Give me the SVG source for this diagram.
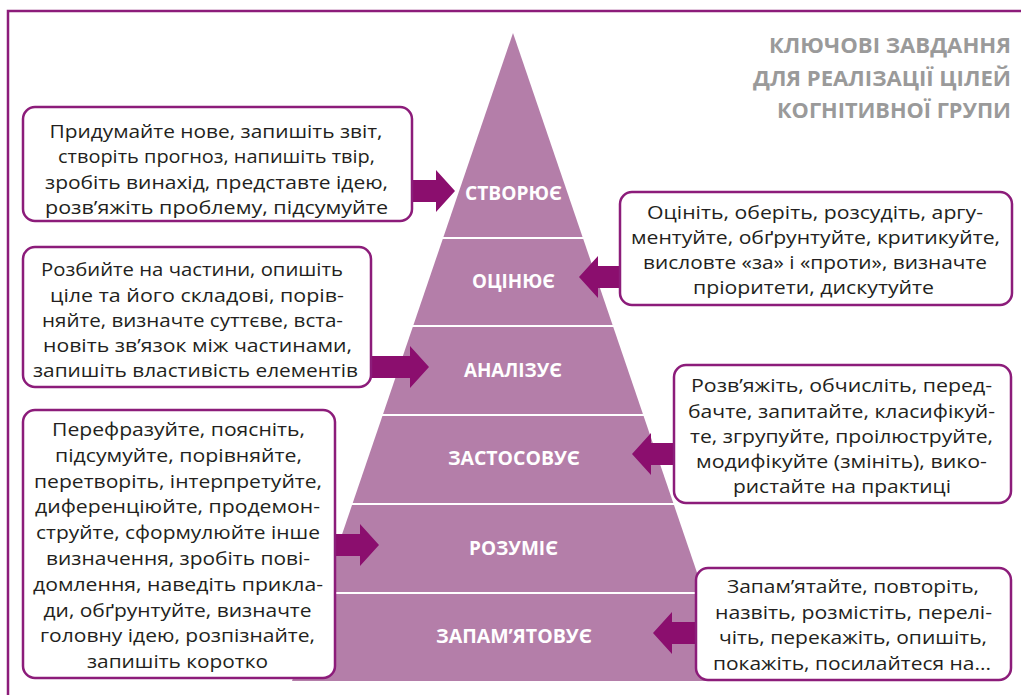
<svg xmlns="http://www.w3.org/2000/svg" width="1021" height="695" viewBox="0 0 1021 695">
<style>
.band{fill:#b47ea9}
.lbl{font-family:"Open Sans","Noto Sans",sans-serif;font-weight:700;font-size:20px;fill:#ffffff;text-anchor:middle}
.box{fill:#ffffff;stroke:#8c1c7a;stroke-width:2.5}
.txt{font-family:"Open Sans","Noto Sans",sans-serif;font-size:19px;fill:#231f20;text-anchor:middle}
.arr{fill:#8b0e6e}
.ttl{font-family:"Open Sans","Noto Sans",sans-serif;font-weight:700;font-size:22px;fill:#9a9a9a;text-anchor:end}
.frame{fill:none;stroke:#8c1c7a;stroke-width:2.5}
</style>
<rect width="1021" height="695" fill="#ffffff"/>
<path class="frame" d="M1021 11 H8 V695"/>
<g id="title">
<text class="ttl" x="1011" y="53" textLength="242" lengthAdjust="spacingAndGlyphs">КЛЮЧОВІ ЗАВДАННЯ</text>
<text class="ttl" x="1011" y="86" textLength="258" lengthAdjust="spacingAndGlyphs">ДЛЯ РЕАЛІЗАЦІЇ ЦІЛЕЙ</text>
<text class="ttl" x="1011" y="118" textLength="234" lengthAdjust="spacingAndGlyphs">КОГНІТИВНОЇ ГРУПИ</text>
</g>
<g id="level-create">
<polygon class="band" points="513,33 582.56,237 443.44,237"/>
<text class="lbl" x="513.5" y="200" textLength="97" lengthAdjust="spacingAndGlyphs">СТВОРЮЄ</text>
</g>
<g id="level-evaluate">
<polygon class="band" points="442.75,239 583.25,239 612.57,325 413.43,325"/>
<text class="lbl" x="513.5" y="288" textLength="83" lengthAdjust="spacingAndGlyphs">ОЦІНЮЄ</text>
</g>
<g id="level-analyze">
<polygon class="band" points="412.75,327 613.25,327 642.92,414 383.08,414"/>
<text class="lbl" x="513" y="377" textLength="98" lengthAdjust="spacingAndGlyphs">АНАЛІЗУЄ</text>
</g>
<g id="level-apply">
<polygon class="band" points="382.4,416 643.6,416 673.27,503 352.73,503"/>
<text class="lbl" x="514" y="465" textLength="132" lengthAdjust="spacingAndGlyphs">ЗАСТОСОВУЄ</text>
</g>
<g id="level-understand">
<polygon class="band" points="352.05,505 673.95,505 703.62,592 322.38,592"/>
<text class="lbl" x="513.5" y="555" textLength="89" lengthAdjust="spacingAndGlyphs">РОЗУМІЄ</text>
</g>
<g id="level-remember">
<polygon class="band" points="321.7,594 704.3,594 733.97,681 292.03,681"/>
<text class="lbl" x="514" y="643" textLength="156" lengthAdjust="spacingAndGlyphs">ЗАПАМ’ЯТОВУЄ</text>
</g>
<g id="connectors">
<polygon class="arr" points="408,180 436,180 436,170 455,191 436,212 436,202 408,202"/>
<polygon class="arr" points="623,266 598,266 598,256 579,277 598,298 598,288 623,288"/>
<polygon class="arr" points="369,356 410,356 410,346 429,367 410,388 410,378 369,378"/>
<polygon class="arr" points="333,534 360,534 360,524 379,545 360,566 360,556 333,556"/>
<polygon class="arr" points="676,443 651,443 651,433 632,454 651,475 651,465 676,465"/>
<polygon class="arr" points="698,622 672,622 672,612 653,633 672,654 672,644 698,644"/>
</g>
<g id="box-create">
<rect class="box" x="23" y="107" width="389" height="114" rx="12"/>
<text class="txt" x="216" y="137.5" textLength="333" lengthAdjust="spacingAndGlyphs">Придумайте нове, запишіть звіт,</text>
<text class="txt" x="216.5" y="163" textLength="317" lengthAdjust="spacingAndGlyphs">створіть прогноз, напишіть твір,</text>
<text class="txt" x="216.5" y="188.5" textLength="343" lengthAdjust="spacingAndGlyphs">зробіть винахід, представте ідею,</text>
<text class="txt" x="216.5" y="213.5" textLength="343" lengthAdjust="spacingAndGlyphs">розв’яжіть проблему, підсумуйте</text>
</g>
<g id="box-evaluate">
<rect class="box" x="620" y="192" width="392" height="113" rx="12"/>
<text class="txt" x="815" y="218.5" textLength="336" lengthAdjust="spacingAndGlyphs">Оцініть, оберіть, розсудіть, аргу-</text>
<text class="txt" x="815.5" y="243.5" textLength="369" lengthAdjust="spacingAndGlyphs">ментуйте, обґрунтуйте, критикуйте,</text>
<text class="txt" x="815" y="269" textLength="344" lengthAdjust="spacingAndGlyphs">висловте «за» і «проти», визначте</text>
<text class="txt" x="813.5" y="294" textLength="241" lengthAdjust="spacingAndGlyphs">пріоритети, дискутуйте</text>
</g>
<g id="box-analyze">
<rect class="box" x="23" y="247" width="348" height="140" rx="12"/>
<text class="txt" x="192" y="276" textLength="302" lengthAdjust="spacingAndGlyphs">Розбийте на частини, опишіть</text>
<text class="txt" x="197" y="302" textLength="294" lengthAdjust="spacingAndGlyphs">ціле та його складові, порів-</text>
<text class="txt" x="192.5" y="327" textLength="301" lengthAdjust="spacingAndGlyphs">няйте, визначте суттєве, вста-</text>
<text class="txt" x="197.5" y="352" textLength="309" lengthAdjust="spacingAndGlyphs">новіть зв’язок між частинами,</text>
<text class="txt" x="195.5" y="377" textLength="325" lengthAdjust="spacingAndGlyphs">запишіть властивість елементів</text>
</g>
<g id="box-apply">
<rect class="box" x="674" y="365" width="337" height="138" rx="12"/>
<text class="txt" x="841.5" y="392" textLength="301" lengthAdjust="spacingAndGlyphs">Розв’яжіть, обчисліть, перед-</text>
<text class="txt" x="841.5" y="417.5" textLength="307" lengthAdjust="spacingAndGlyphs">бачте, запитайте, класифікуй-</text>
<text class="txt" x="841.5" y="443" textLength="303" lengthAdjust="spacingAndGlyphs">те, згрупуйте, проілюструйте,</text>
<text class="txt" x="841.5" y="468" textLength="291" lengthAdjust="spacingAndGlyphs">модифікуйте (змініть), вико-</text>
<text class="txt" x="842" y="493" textLength="218" lengthAdjust="spacingAndGlyphs">ристайте на практиці</text>
</g>
<g id="box-understand">
<rect class="box" x="23" y="410" width="312" height="268" rx="12"/>
<text class="txt" x="178.5" y="436" textLength="253" lengthAdjust="spacingAndGlyphs">Перефразуйте, поясніть,</text>
<text class="txt" x="178.5" y="461.8" textLength="247" lengthAdjust="spacingAndGlyphs">підсумуйте, порівняйте,</text>
<text class="txt" x="178" y="487.6" textLength="288" lengthAdjust="spacingAndGlyphs">перетворіть, інтерпретуйте,</text>
<text class="txt" x="177.5" y="513.4" textLength="285" lengthAdjust="spacingAndGlyphs">диференціюйте, продемон-</text>
<text class="txt" x="178" y="539.2" textLength="284" lengthAdjust="spacingAndGlyphs">струйте, сформулюйте інше</text>
<text class="txt" x="178" y="565" textLength="264" lengthAdjust="spacingAndGlyphs">визначення, зробіть пові-</text>
<text class="txt" x="178" y="590.8" textLength="290" lengthAdjust="spacingAndGlyphs">домлення, наведіть прикла-</text>
<text class="txt" x="177.5" y="616.6" textLength="268" lengthAdjust="spacingAndGlyphs">ди, обґрунтуйте, визначте</text>
<text class="txt" x="177.5" y="642.4" textLength="275" lengthAdjust="spacingAndGlyphs">головну ідею, розпізнайте,</text>
<text class="txt" x="177.5" y="668" textLength="181" lengthAdjust="spacingAndGlyphs">запишіть коротко</text>
</g>
<g id="box-remember">
<rect class="box" x="696" y="568" width="315" height="112" rx="12"/>
<text class="txt" x="853" y="593" textLength="252" lengthAdjust="spacingAndGlyphs">Запам’ятайте, повторіть,</text>
<text class="txt" x="853.5" y="618.5" textLength="277" lengthAdjust="spacingAndGlyphs">назвіть, розмістіть, перелі-</text>
<text class="txt" x="853" y="644" textLength="268" lengthAdjust="spacingAndGlyphs">чіть, перекажіть, опишіть,</text>
<text class="txt" x="852" y="669.5" textLength="278" lengthAdjust="spacingAndGlyphs">покажіть, посилайтеся на...</text>
</g>
</svg>
